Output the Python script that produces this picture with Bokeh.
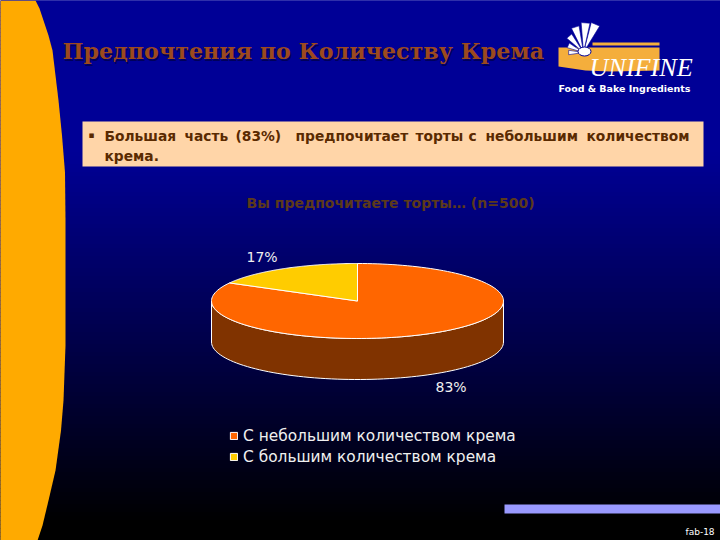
from bokeh.plotting import figure
from bokeh.embed import file_html
from bokeh.resources import INLINE
from bokeh.models import Range1d, Legend, LegendItem
from bokeh.core.properties import value
import numpy as np

# ---- data ----
categories = ["С небольшим количеством крема", "С большим количеством крема"]
values = [83, 17]
pct_labels = ["83%", "17%"]
slice_colors = ["#FF6600", "#FFCC00"]
title_text = "Предпочтения по Количеству Крема"
subtitle_text = "Вы предпочитаете торты… (n=500)"
bullet_words = ["Большая", "часть", "(83%)", "предпочитает", "торты", "с", "небольшим", "количеством"]
bullet_x = [104, 184, 235, 295, 415, 468, 485, 586]
bullet_line2 = "крема."
footer = "fab-18"

W, H = 720, 540
p = figure(width=W, height=H, output_backend="svg", toolbar_location=None,
           x_range=Range1d(0, W), y_range=Range1d(H, 0),
           min_border=0, outline_line_color=None, background_fill_color="#000098",
           border_fill_color="#000098")
p.axis.visible = False
p.grid.visible = False

# background gradient
ys = np.arange(0, 544, 4)
def bg(y):
    t = np.clip((y - 150) / 370, 0, 1)
    return "#%02x%02x%02x" % (0, 0, int(round(0x96 * (1 - t))))
cols = [bg(y) for y in ys]
p.quad(left=0, right=720, top=ys, bottom=ys + 4, fill_color=cols, line_color=cols)

# left panel
py = np.array([0, 8, 20, 35, 50, 75, 100, 135, 172, 220, 345, 400, 430, 470, 500, 525, 540])
px = np.array([35, 39, 43, 48, 52, 55, 58, 61.5, 64.5, 65, 65, 63, 60.5, 55, 48, 42, 37])
p.patch(np.r_[-5, px, -5], np.r_[0, py, 540], fill_color="#FFAA00", line_color=None)

# title
for dx, dy, c in [(1.5, 1.5, "#00005a"), (0, 0, "#9C4A1E")]:
    p.text([62 + dx], [50.5 + dy], text=[title_text], text_font=value("DejaVu Serif"),
           text_font_size="22.2px", text_font_style="bold", text_color=c,
           text_baseline="middle", text_align="left")

# logo
p.patch([558, 659, 659, 610, 585, 558], [47, 47, 70, 71, 70, 66], fill_color="#F4AE3C", line_color=None)
p.quad(left=592, right=659, top=42, bottom=45, fill_color="#F4AE3C", line_color=None)
cx, cy = 583, 52
for ang, r in [(-67, 31), (-86, 30), (-108, 27), (-131, 22), (-155, 17), (-180, 15)]:
    t = np.radians(np.array([ang - 8.5, ang + 8.5]))
    p.patch([cx + 5 * np.cos(t[0]), cx + r * np.cos(t[0]), cx + r * np.cos(t[1]), cx + 5 * np.cos(t[1])],
            [cy + 5 * np.sin(t[0]), cy + r * np.sin(t[0]), cy + r * np.sin(t[1]), cy + 5 * np.sin(t[1])],
            fill_color="white", line_color="#000098", line_width=0.6)
p.ellipse([584], [51], width=13, height=9, fill_color="white", line_color="#000098")
p.text([589], [67], text=["UNIFINE"], text_font=value("Liberation Serif"), text_font_size="26.2px",
       text_font_style="italic", text_color="white", text_baseline="middle")
p.text([558], [88], text=["Food & Bake Ingredients"], text_font=value("DejaVu Sans"), text_font_size="9.5px",
       text_font_style="bold", text_color="white", text_baseline="middle")

# bullet box
p.quad(left=82, right=703, top=121, bottom=166, fill_color="#FFD5A8", line_color=None)
p.text([88], [134], text=["▪"], text_font=value("DejaVu Sans"), text_font_size="9px",
       text_color="#5a2a00", text_baseline="middle")
p.text(bullet_x, [135] * len(bullet_words), text=bullet_words, text_font=value("DejaVu Sans"),
       text_font_size="13.8px", text_font_style="bold", text_color="#5a2a00", text_baseline="middle")
p.text([104], [155], text=[bullet_line2], text_font=value("DejaVu Sans"),
       text_font_size="13.8px", text_font_style="bold", text_color="#5a2a00", text_baseline="middle")

# subtitle
p.text([246], [202], text=[subtitle_text], text_font=value("DejaVu Sans"), text_font_size="14px",
       text_font_style="bold", text_color="#5C3A1A", text_baseline="middle")

# pie, 3D
CX, CY, RX, RY, DEPTH = 357, 300.5, 146, 37.5, 41
fractions = np.array(values, dtype=float) / sum(values)
th = np.linspace(0, np.pi, 80)
side_x = np.r_[CX + RX * np.cos(th), CX + RX * np.cos(th[::-1])]
side_y = np.r_[CY + DEPTH + RY * np.sin(th), CY + RY * np.sin(th[::-1])]
p.patch(side_x, side_y, fill_color="#803300", line_color="white", line_width=1)

angle = 0.0
rens = []
for frac, col in zip(fractions, slice_colors):
    t = np.linspace(angle, angle + frac * 2 * np.pi, 150)
    xs = np.r_[CX, CX + RX * np.sin(t)]
    ys_ = np.r_[CY, CY - RY * np.cos(t)]
    rens.append(p.patch(xs, ys_, fill_color=col, line_color="white", line_width=1))
    angle += frac * 2 * np.pi

# labels
p.text([246], [256], text=[pct_labels[1]], text_font=value("DejaVu Sans"), text_font_size="14px",
       text_color="#f0f0f0", text_baseline="middle")
p.text([435], [386], text=[pct_labels[0]], text_font=value("DejaVu Sans"), text_font_size="14px",
       text_color="#f0f0f0", text_baseline="middle")

# legend
leg = Legend(items=[LegendItem(label=c, renderers=[r]) for c, r in zip(categories, rens)],
             location=(229, 74), orientation="vertical", background_fill_alpha=0,
             border_line_color=None, label_text_color="#f0f0f0", label_text_font="DejaVu Sans",
             label_text_font_size="15.4px", glyph_width=9, glyph_height=9, spacing=2,
             padding=0, margin=0, label_standoff=5, label_height=19)
p.add_layout(leg)

# footer bar
p.quad(left=504, right=720, top=504, bottom=513, fill_color="#9999FF", line_color=None)
p.text([685], [531], text=[footer], text_font=value("DejaVu Sans"), text_font_size="9px",
       text_color="white", text_baseline="middle")

open("out.html", "w").write(file_html(p, INLINE))
